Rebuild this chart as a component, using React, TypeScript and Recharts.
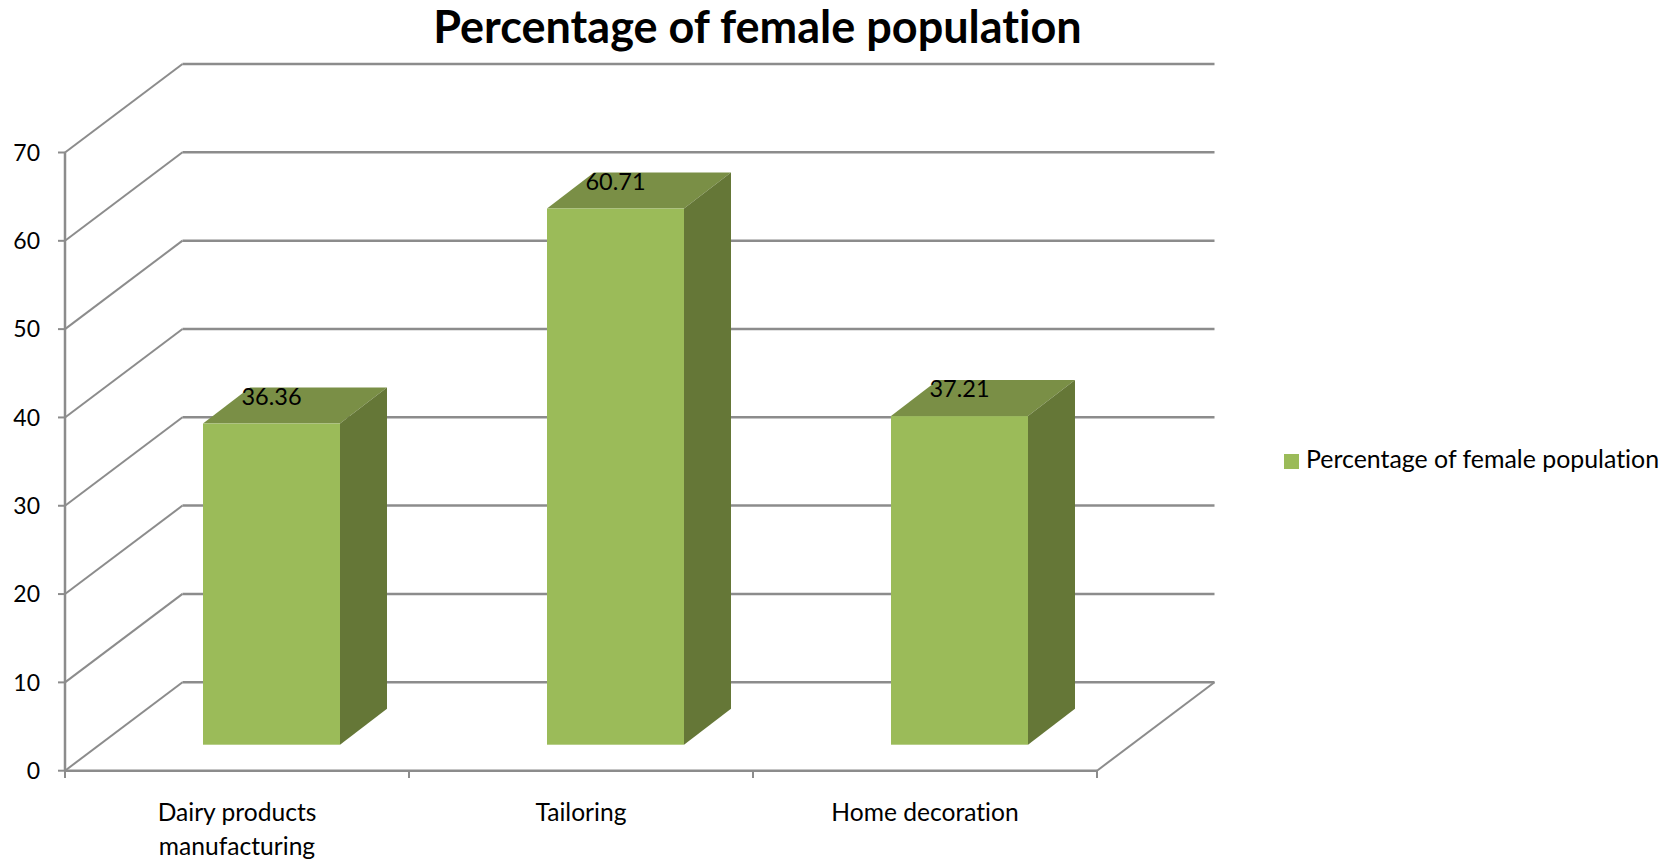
import React from "react";
import { BarChart, Bar, XAxis, YAxis, CartesianGrid, Legend, LabelList, Text } from "recharts";

const categories = ["Dairy products manufacturing", "Tailoring", "Home decoration"];
const femaleShare = [36.36, 60.71, 37.21];
const yTicks = [0, 10, 20, 30, 40, 50, 60, 70];
const seriesName = "Percentage of female population";

const rows = categories.map((category, i) => ({ category, female: femaleShare[i] }));

const WIDTH = 1676;
const HEIGHT = 859;
const FONT = "Lato, 'Open Sans', sans-serif";
const GRID = "#8c8c8c";
const NO_LIGATURES = { fontVariantLigatures: "none" } as const;

const PLOT_LEFT = 65;
const PLOT_RIGHT = 1097;
const BAND = (PLOT_RIGHT - PLOT_LEFT) / categories.length;

// depth of the floor and walls
const WALL_DX = 117.5;
const WALL_DY = -88.5;
// bars stand in the middle of the floor
const BAR_DX = 34;
const BAR_DY = -26;
const BOX_DX = 47;
const BOX_DY = -36;

function WallLine(props: any) {
  const { x1, x2, y1 } = props;
  const bx = x1 + WALL_DX;
  const by = y1 + WALL_DY;
  return (
    <g fill="none" stroke={GRID}>
      <line x1={x1} y1={y1} x2={bx} y2={by} strokeWidth={2} />
      <line x1={bx} y1={by} x2={x2 + WALL_DX} y2={by} strokeWidth={2.5} />
      {y1 > 760 && <line x1={x2} y1={y1} x2={x2 + WALL_DX} y2={by} strokeWidth={2} />}
    </g>
  );
}

function Box(props: any) {
  const { x, y, width, height } = props;
  const l = x + BAR_DX;
  const r = l + width;
  const t = y + BAR_DY;
  const b = t + height;
  return (
    <g>
      <polygon
        points={`${l},${t} ${l + BOX_DX},${t + BOX_DY} ${r + BOX_DX},${t + BOX_DY} ${r},${t}`}
        fill="#7a8f46"
      />
      <polygon
        points={`${r},${t} ${r + BOX_DX},${t + BOX_DY} ${r + BOX_DX},${b + BOX_DY} ${r},${b}`}
        fill="#657737"
      />
      <rect x={l} y={t} width={width} height={height} fill="#9bbb59" />
    </g>
  );
}

function BoxLabel(props: any) {
  const { x, y, width, value } = props;
  return (
    <text
      x={x + width / 2 + BAR_DX}
      y={y + BAR_DY - 28}
      textAnchor="middle"
      dominantBaseline="central"
      fontFamily={FONT}
      fontSize={23.5}
      fill="#000"
    >
      {value}
    </text>
  );
}

function CategoryTick(props: any) {
  const { x, payload, index } = props;
  const left = x - BAND / 2;
  const right = x + BAND / 2;
  return (
    <g>
      <line x1={left} y1={770.7} x2={left} y2={778} stroke={GRID} strokeWidth={2} />
      {index === categories.length - 1 && (
        <line x1={right} y1={770.7} x2={right} y2={778} stroke={GRID} strokeWidth={2} />
      )}
      <Text
        x={x}
        y={804}
        width={200}
        textAnchor="middle"
        verticalAnchor="start"
        lineHeight={34}
        fill="#000"
        style={{ fontFamily: FONT, fontSize: 24.6, ...NO_LIGATURES }}
      >
        {payload.value}
      </Text>
    </g>
  );
}

export default function App() {
  return (
    <div style={{ position: "absolute", left: 0, top: 0, width: WIDTH, height: HEIGHT, background: "#fff" }}>
      <BarChart
        width={WIDTH}
        height={HEIGHT}
        data={rows}
        barSize={137}
        margin={{ top: 152.5, right: WIDTH - PLOT_RIGHT, bottom: 0, left: 0 }}
      >
        <text
          x={757.5}
          y={43}
          textAnchor="middle"
          fontFamily={FONT}
          fontWeight={700}
          fontSize={45}
          fill="#000"
          style={NO_LIGATURES}
        >
          {seriesName}
        </text>
        <CartesianGrid vertical={false} horizontal={(p: any) => <WallLine key={p.key} {...p} />} />
        <XAxis
          dataKey="category"
          height={88.3}
          tickLine={false}
          axisLine={{ stroke: GRID, strokeWidth: 2.5 }}
          tick={(p: any) => <CategoryTick {...p} />}
          interval={0}
        />
        <YAxis
          width={PLOT_LEFT}
          domain={[0, 70]}
          ticks={yTicks}
          interval={0}
          tickSize={7}
          tickMargin={18}
          axisLine={{ stroke: GRID, strokeWidth: 2.5 }}
          tickLine={{ stroke: GRID, strokeWidth: 2 }}
          tick={{ fill: "#000", fontSize: 23, fontFamily: FONT }}
        />
        <Legend
          layout="vertical"
          align="center"
          verticalAlign="middle"
          iconType="square"
          iconSize={15}
          wrapperStyle={{ left: 1284, top: 443, width: 392, fontFamily: FONT, fontSize: 24.9, ...NO_LIGATURES }}
          formatter={(value: string) => <span style={{ color: "#000", marginLeft: 3 }}>{value}</span>}
        />
        <Bar
          dataKey="female"
          name={seriesName}
          fill="#9bbb59"
          shape={(p: any) => <Box {...p} />}
          isAnimationActive={false}
        >
          <LabelList dataKey="female" content={(p: any) => <BoxLabel {...p} />} />
        </Bar>
      </BarChart>
    </div>
  );
}
